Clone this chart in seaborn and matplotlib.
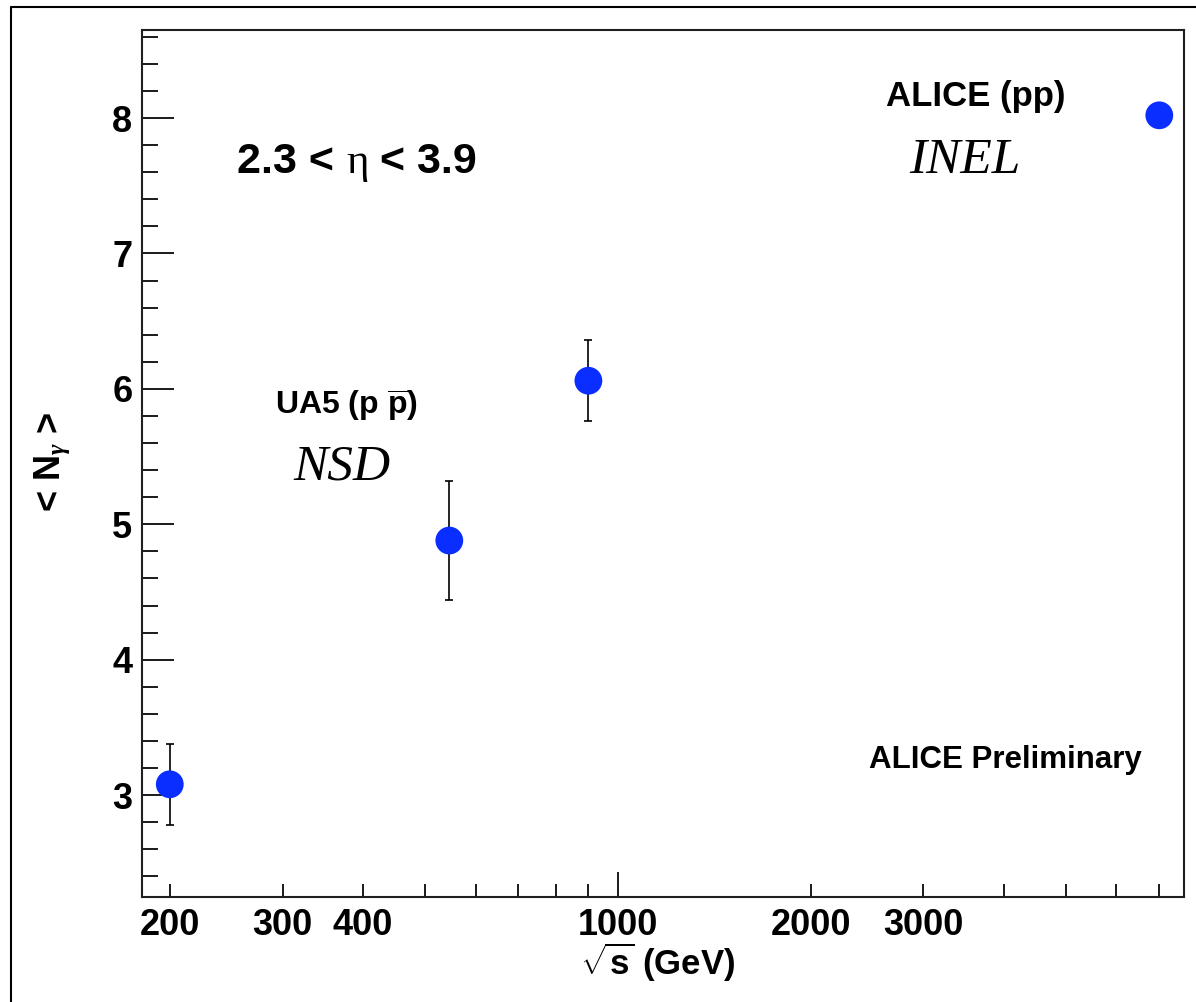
import matplotlib
matplotlib.use("Agg")
import matplotlib.pyplot as plt
from matplotlib.ticker import FixedLocator, NullFormatter, FixedFormatter
from matplotlib.lines import Line2D
from matplotlib.transforms import offset_copy
import seaborn as sns
import pandas as pd

# <N_gamma> versus collision energy, 2.3 < eta < 3.9
energies = [200, 546, 900, 7000]
n_gamma = [3.08, 4.88, 6.06, 8.02]
n_gamma_err = [0.30, 0.44, 0.30, 0.0]

x_major_ticks = [200, 300, 400, 1000, 2000, 3000]
x_tick_labels = ["200", "300", "400", "1000", "2000", "3000"]
x_minor_ticks = [500, 600, 700, 800, 900, 4000, 5000, 6000, 7000]
y_major_ticks = [3, 4, 5, 6, 7, 8]

df = pd.DataFrame({"sqrt_s": energies, "n_gamma": n_gamma, "err": n_gamma_err})

sns.set_theme(style="ticks")
plt.rcParams["font.family"] = ["Liberation Sans", "DejaVu Sans"]
plt.rcParams["font.weight"] = "bold"
plt.rcParams["text.color"] = "black"
plt.rcParams["xtick.labelcolor"] = "black"
plt.rcParams["ytick.labelcolor"] = "black"
plt.rcParams["mathtext.fontset"] = "custom"
plt.rcParams["mathtext.rm"] = "Liberation Serif"
plt.rcParams["mathtext.it"] = "Liberation Serif:italic"
plt.rcParams["mathtext.bf"] = "Liberation Sans:bold"

W, H = 1196, 1002
fig = plt.figure(figsize=(W / 100, H / 100), dpi=100)
ax = fig.add_axes([142 / W, 1 - 896.7 / H, (1184 - 142) / W, (896.7 - 30) / H])

blue = "#0a2eff"
ax.errorbar(df["sqrt_s"], df["n_gamma"], yerr=df["err"], fmt="none",
            ecolor="black", elinewidth=1.2, capsize=3.0, capthick=1.2, zorder=2)
sns.scatterplot(data=df, x="sqrt_s", y="n_gamma", ax=ax, s=400, color=blue,
                edgecolor="none", linewidth=0, zorder=3, legend=False)

ax.set_xscale("log")
ax.set_xlim(181, 7650)
ax.set_ylim(2.25, 8.65)

ax.xaxis.set_major_locator(FixedLocator(x_major_ticks))
ax.xaxis.set_major_formatter(FixedFormatter(x_tick_labels))
ax.xaxis.set_minor_locator(FixedLocator(x_minor_ticks))
ax.xaxis.set_minor_formatter(NullFormatter())
ax.yaxis.set_major_locator(FixedLocator(y_major_ticks))
ax.yaxis.set_minor_locator(FixedLocator([v / 10 for v in range(24, 87, 2)]))

ax.tick_params(axis="x", which="both", direction="in", length=9.4, width=1.4,
               color="#1a1a1a", labelsize=26, pad=8, top=False)
ax.tick_params(axis="y", which="major", direction="in", length=23, width=1.4,
               color="#1a1a1a", labelsize=26, pad=7, right=False)
ax.tick_params(axis="y", which="minor", direction="in", length=11.5, width=1.4,
               color="#1a1a1a", right=False)
for lab in ax.get_xticklabels() + ax.get_yticklabels():
    lab.set_fontweight("bold")
    lab.set_color("black")
# the 1000 GeV tick is drawn longer
ax.xaxis.get_major_ticks()[3].tick1line.set_markersize(18)

for sp in ax.spines.values():
    sp.set_visible(True)
    sp.set_color("#1f1f1f")
    sp.set_linewidth(1.5)

ax.set_xlabel("")
ax.set_ylabel("")


def px(x, y):
    return x / W, 1 - y / H


# "2.3 < eta < 3.9" built from pieces so that eta is an upright serif glyph
renderer = fig.canvas.get_renderer()
pieces = [("2.3 < ", dict(fontweight="bold")),
          ("\u03b7", dict(family="Liberation Serif", fontweight="normal")),
          (" < 3.9", dict(fontweight="bold"))]
cur_x = 237
for s, kw in pieces:
    t = fig.text(*px(cur_x, 173), s, fontsize=31, ha="left", va="baseline", **kw)
    bb = t.get_window_extent(renderer=renderer)
    cur_x += bb.width

fig.text(*px(275, 415), r"UA5 (p $\overline{\mathbf{p}}$)", fontsize=23,
         fontweight="bold", ha="left", va="baseline")
fig.text(*px(293, 480), "NSD", fontsize=37, family="Liberation Serif",
         style="italic", fontweight="normal", ha="left", va="baseline")
fig.text(*px(886, 106), "ALICE (pp)", fontsize=25, fontweight="bold",
         ha="left", va="baseline")
fig.text(*px(909, 173), "INEL", fontsize=37, family="Liberation Serif",
         style="italic", fontweight="normal", ha="left", va="baseline")
fig.text(*px(869, 768), "ALICE Preliminary", fontsize=22.5, fontweight="bold",
         ha="left", va="baseline")
fig.text(*px(735, 975), r"$\sqrt{\mathbf{s}}$ (GeV)", fontsize=25,
         fontweight="bold", ha="right", va="baseline")
fig.text(*px(52, 462), r"< N$_{\mathit{\gamma}}$ >", fontsize=26,
         fontweight="bold", rotation=90, ha="center", va="center")

# outer frame edges
fig.add_artist(Line2D([10.7 / W, 10.7 / W], [0, 1 - 6.7 / H],
                      transform=fig.transFigure, color="black", lw=1.5))
fig.add_artist(Line2D([10.7 / W, 1], [1 - 6.7 / H, 1 - 6.7 / H],
                      transform=fig.transFigure, color="black", lw=1.5))

fig.savefig("out.png", dpi=100, facecolor="white")
